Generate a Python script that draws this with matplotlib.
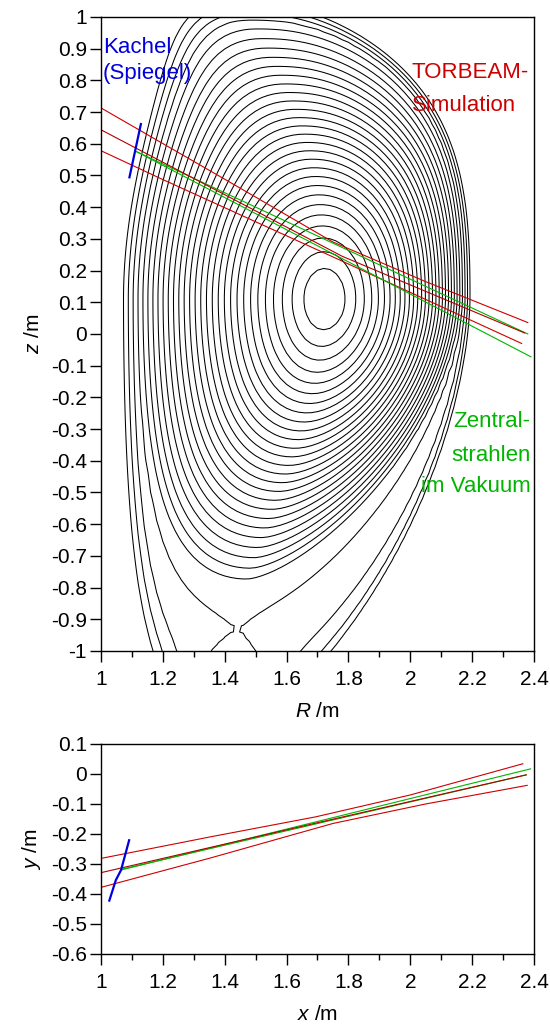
import numpy as np
import matplotlib
matplotlib.use('Agg')
import matplotlib.pyplot as plt

plt.rcParams['font.family'] = ['Liberation Sans', 'DejaVu Sans']
plt.rcParams['mathtext.fontset'] = 'custom'
plt.rcParams['mathtext.rm'] = 'Liberation Sans'
plt.rcParams['mathtext.it'] = 'Liberation Sans:italic'
plt.rcParams['axes.unicode_minus'] = False

# --- flux surface geometry (R, z in m) ---
R_geo = 1.645           # centre of the boundary surface
shift0 = 0.079          # Shafranov shift of the magnetic axis
z_axis = 0.11
minor_a = 0.522
kappa_in, kappa_up, kappa_low = 1.45, 1.68, 1.745
kappa_sol_low, kappa_sol_up, sol_scale = 0.70, 0.0, 0.02
tri_up, tri_low = 0.30, 0.35
square_out_up, square_out_low, square_in = 2.5, 1.6, 2.0
xpoint_RZ = (1.44, -0.93)
hole_dist, hole_width = 0.28, 0.11
flux_power = 1.6
n_closed = 27
n_sol = 3

# --- beams, poloidal view ---
red_up_R = [1.0, 1.45, 1.75, 2.05, 2.38]
red_up_z = [0.713, 0.46, 0.29, 0.165, 0.036]
red_mid_R = [1.0, 1.78, 2.37]
red_mid_z = [0.644, 0.245, 0.003]
red_low_R = [1.0, 1.2, 1.75, 2.36]
red_low_z = [0.578, 0.487, 0.243, -0.03]
green1_R = [1.115, 2.38]
green1_z = [0.575, 0.0]
green2_R = [1.115, 2.39]
green2_z = [0.575, -0.072]
mirror_R = [1.092, 1.129]
mirror_z = [0.494, 0.662]

# --- beams, top view ---
red_up_x = [1.0, 1.354, 1.694, 2.0, 2.364]
red_up_y = [-0.2815, -0.2096, -0.143, -0.07, 0.034]
red_mid_x = [1.0, 1.694, 2.375]
red_mid_y = [-0.329, -0.164, -0.003]
red_low_x = [1.0, 1.354, 1.75, 2.05, 2.378]
red_low_y = [-0.378, -0.28, -0.165, -0.10, -0.038]
green_x = [1.065, 2.389]
green_y = [-0.320, 0.017]
green2_x = [1.065, 2.375]
green2_y = [-0.318, -0.003]
mirror_x = [1.027, 1.048, 1.065, 1.091]
mirror_y = [-0.422, -0.354, -0.320, -0.221]

RED = '#cc0000'
DARKRED = '#b00000'
GREEN = '#00b400'
BLUE = '#0000dd'


def surface_label(r, R, z):
    # value of the shape function of surface r at (R, z); equals r on that surface
    s = np.clip(r, 0, 1)
    e = np.clip(r - 1, 0, None)
    Rc = R_geo + shift0 * (1 - r**2)
    grow = 1 - np.exp(-e / sol_scale)
    lower = z < z_axis
    kap = kappa_in + (np.where(lower, kappa_low, kappa_up) - kappa_in) * s**4
    kap = kap + np.where(lower, kappa_sol_low, kappa_sol_up) * grow
    yn = (z - z_axis) / (kap * minor_a)
    tri = np.where(yn > 0, tri_up * yn**4, tri_low * yn**2)
    xn = (R - Rc) / minor_a + tri
    q = np.where(xn > 0, np.where(yn > 0, square_out_up, square_out_low), square_in)
    q = 2 + (q - 2) * s**2
    return (np.abs(xn)**q + np.abs(yn)**q)**(1 / q)


def rho_map(R, z):
    R = np.asarray(R, float)
    z = np.asarray(z, float)
    lo = np.zeros(R.shape)
    hi = np.full(R.shape, 6.0)
    for _ in range(45):
        mid = 0.5 * (lo + hi)
        above = surface_label(mid, R, z) > mid
        lo = np.where(above, mid, lo)
        hi = np.where(above, hi, mid)
    return 0.5 * (lo + hi)


def psi_core(R, z):
    return rho_map(R, z)**flux_power


# local flux hole below the plasma that forms the X-point
h = 1e-4
xR, xZ = xpoint_RZ
gR = (psi_core(xR + h, xZ) - psi_core(xR - h, xZ)) / (2 * h)
gZ = (psi_core(xR, xZ + h) - psi_core(xR, xZ - h)) / (2 * h)
gmag = np.hypot(gR, gZ)
hole_R = xR + hole_dist * gR / gmag
hole_Z = xZ + hole_dist * gZ / gmag
hole_depth = gmag * hole_width**2 / hole_dist * np.exp(hole_dist**2 / (2 * hole_width**2))


def psi(R, z):
    d2 = (R - hole_R)**2 + (z - hole_Z)**2
    return psi_core(R, z) - hole_depth * np.exp(-d2 / (2 * hole_width**2))


gr = np.arange(0.98, 2.421, 0.02)
gz = np.arange(-1.02, 1.021, 0.02)
GR, GZ = np.meshgrid(gr, gz)
PSI = psi(GR, GZ)
psi_sep = psi(xR, xZ)
levels = psi_sep * np.arange(1, n_closed + n_sol + 1) / n_closed

fig = plt.figure(figsize=(5.5, 10.26), dpi=100)
ax1 = fig.add_axes([0.1836, 0.3655, 0.7873, 0.618])
ax2 = fig.add_axes([0.1836, 0.0702, 0.7873, 0.2047])

ax1.contour(GR, GZ, PSI, levels=levels, colors='black', linewidths=0.75)
lw = 0.8
ax1.plot(red_up_R, red_up_z, color=RED, lw=lw)
ax1.plot(red_low_R, red_low_z, color=RED, lw=lw)
ax1.plot(green1_R, green1_z, color=GREEN, lw=lw)
ax1.plot(green2_R, green2_z, color=GREEN, lw=lw)
ax1.plot(red_mid_R, red_mid_z, color=DARKRED, lw=lw)
ax1.plot(mirror_R, mirror_z, color=BLUE, lw=1.6)

ax1.text(1.006, 0.902, 'Kachel', color=BLUE, fontsize=16, va='center', ha='left')
ax1.text(1.006, 0.823, '(Spiegel)', color=BLUE, fontsize=16, va='center', ha='left')
ax1.text(2.005, 0.826, 'TORBEAM-', color=RED, fontsize=16, va='center', ha='left')
ax1.text(2.005, 0.722, 'Simulation', color=RED, fontsize=16, va='center', ha='left')
ax1.text(2.388, -0.277, 'Zentral-', color=GREEN, fontsize=16, va='center', ha='right')
ax1.text(2.388, -0.382, 'strahlen', color=GREEN, fontsize=16, va='center', ha='right')
ax1.text(2.388, -0.482, 'im Vakuum', color=GREEN, fontsize=16, va='center', ha='right')

ax1.set_xlim(1, 2.4)
ax1.set_ylim(-1, 1)
ax1.set_yticks(np.round(np.arange(-1, 1.01, 0.1), 1))
ax1.set_xlabel('$R$ /m', fontsize=15, labelpad=9)
ax1.set_ylabel('$z$ /m', fontsize=15, labelpad=6)

ax2.plot(red_up_x, red_up_y, color=RED, lw=lw)
ax2.plot(red_low_x, red_low_y, color=RED, lw=lw)
ax2.plot(green_x, green_y, color=GREEN, lw=lw)
ax2.plot(green2_x, green2_y, color=GREEN, lw=lw)
ax2.plot(red_mid_x, red_mid_y, color=DARKRED, lw=lw)
ax2.plot(mirror_x, mirror_y, color=BLUE, lw=1.6)
ax2.set_xlim(1, 2.4)
ax2.set_ylim(-0.6, 0.1)
ax2.set_yticks(np.round(np.arange(-0.6, 0.11, 0.1), 1))
ax2.set_xlabel('$x$ /m', fontsize=15, labelpad=9)
ax2.set_ylabel('$y$ /m', fontsize=15, labelpad=6)


def fmt(v, p):
    return '%g' % (round(v, 6) + 0.0)


for ax in (ax1, ax2):
    ax.set_xticks(np.round(np.arange(1, 2.41, 0.2), 1))
    ax.set_xticks(np.round(np.arange(1.1, 2.4, 0.2), 1), minor=True)
    ax.xaxis.set_major_formatter(plt.FuncFormatter(fmt))
    ax.yaxis.set_major_formatter(plt.FuncFormatter(fmt))
    ax.tick_params(which='major', direction='out', length=8, width=1, labelsize=15)
    ax.tick_params(axis='x', which='major', pad=6)
    ax.tick_params(axis='y', which='major', pad=2)
    ax.tick_params(which='minor', direction='out', length=4.5, width=1)
    for s in ax.spines.values():
        s.set_linewidth(1)

fig.savefig('out.png', dpi=100)
